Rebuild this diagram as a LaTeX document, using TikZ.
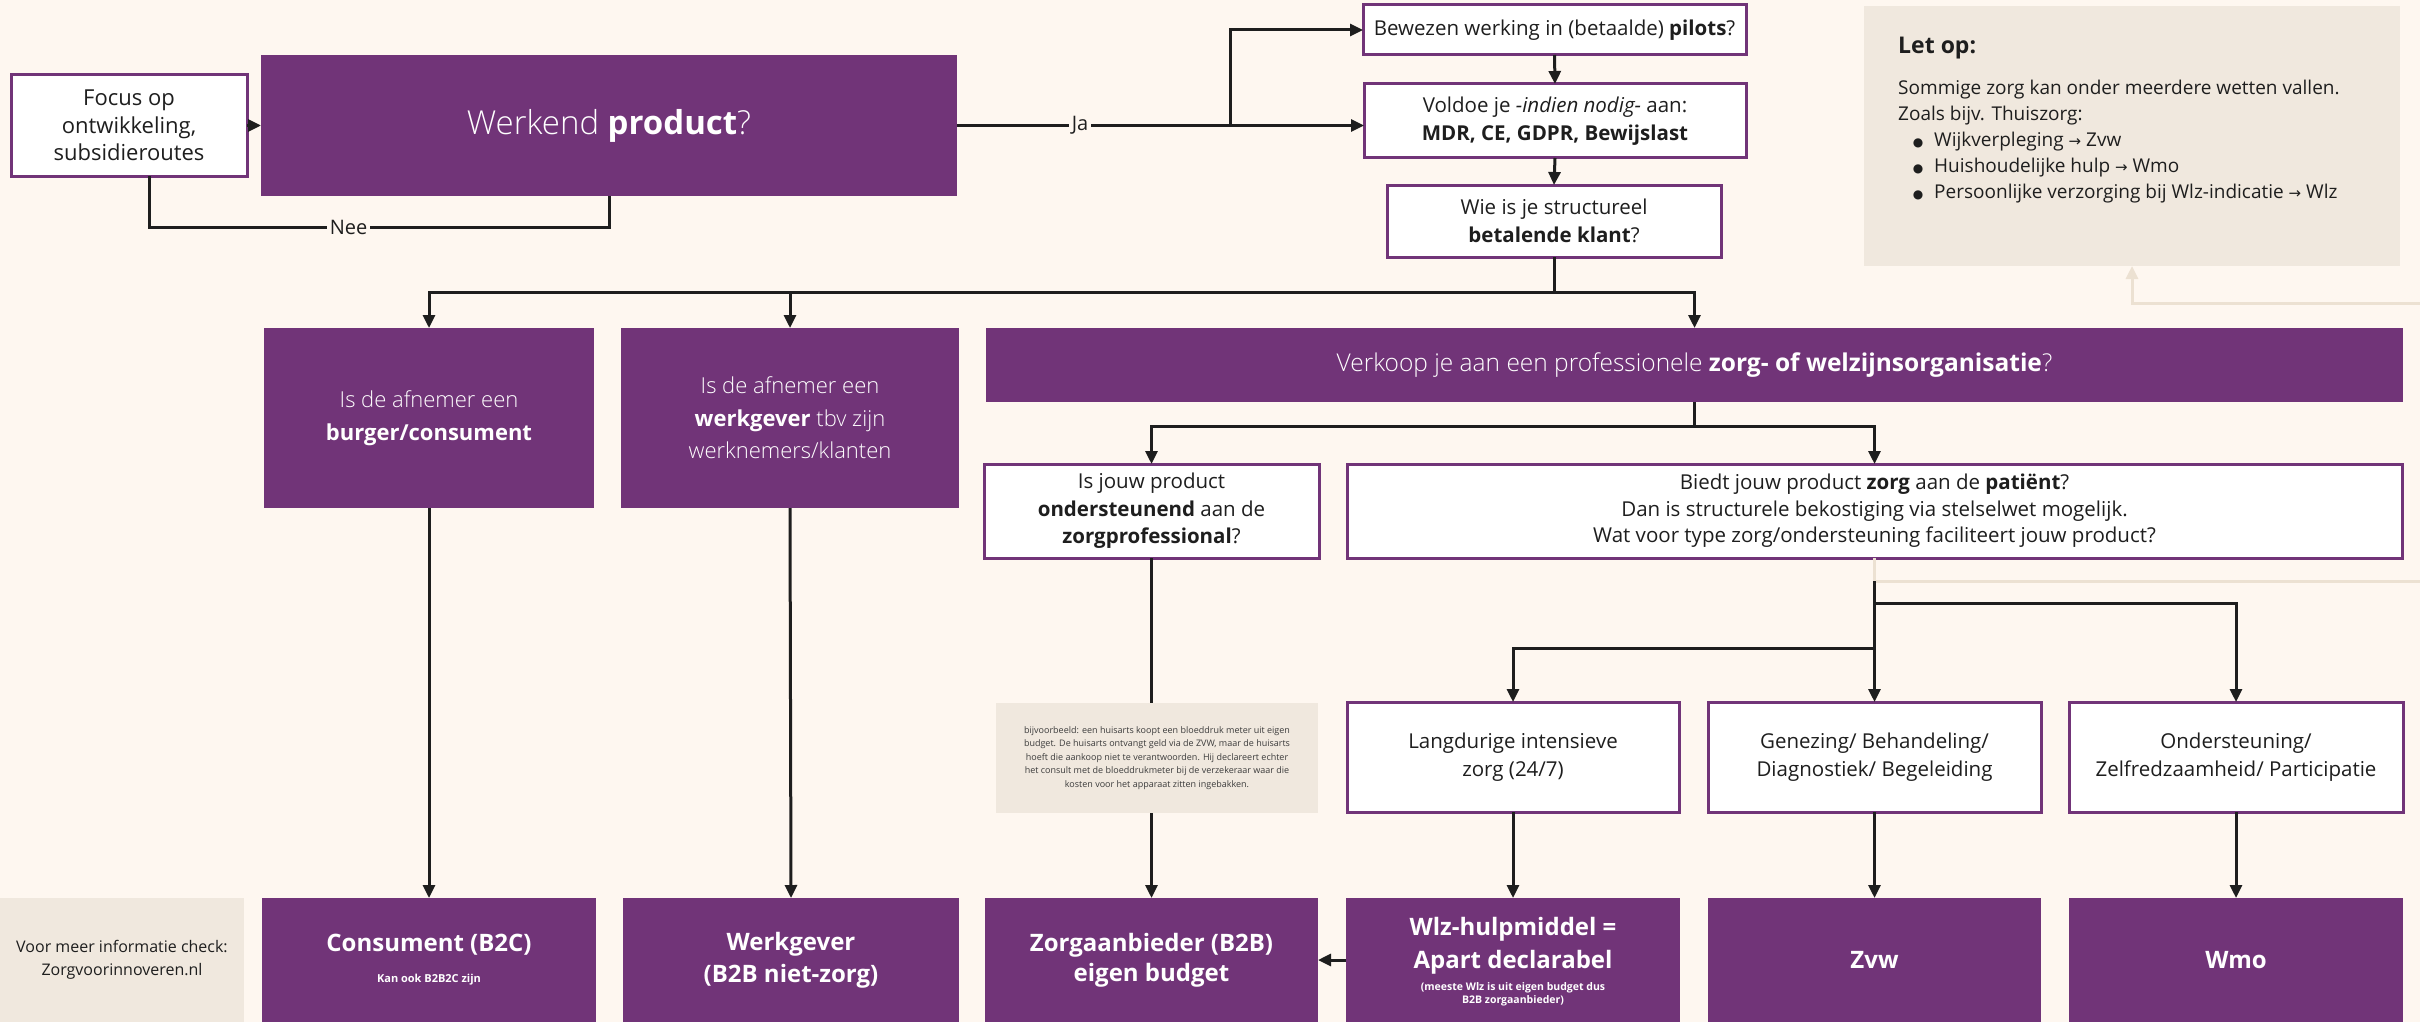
\documentclass[tikz,border=0pt]{standalone}
\usepackage{fontspec}
\setmainfont{Open Sans}
\newfontfamily\lightfont{Open Sans Light}[BoldFont={Open Sans Bold}]
\newfontfamily\symfont{DejaVu Sans}
\usetikzlibrary{arrows.meta}
\definecolor{paper}{RGB}{254,247,240}
\definecolor{plum}{RGB}{113,52,120}
\definecolor{sand}{RGB}{240,232,222}
\definecolor{sandline}{RGB}{236,225,210}
\definecolor{ink}{RGB}{30,30,30}
\definecolor{notegray}{RGB}{60,60,60}
\newcommand{\fs}[2]{\fontsize{#1}{#2}\selectfont}
\newcommand{\rarr}{{\symfont\fontsize{15}{26}\selectfont →}}
\newcommand{\bul}{\makebox[36pt][r]{{\symfont\fontsize{12}{26}\selectfont ●}\hspace{11pt}}}

\begin{document}
\begin{tikzpicture}[x=1pt,y=-1pt,
  boxbase/.style={anchor=north west, inner sep=0pt, outer sep=0pt, align=center},
  whitebox/.style={boxbase, fill=white, draw=plum, line width=3pt, text=ink},
  plumbox/.style={boxbase, fill=plum, text=white},
  sandbox/.style={boxbase, fill=sand, text=ink},
  flow/.style={draw=ink, line width=3pt},
  conn/.style={flow, -{Triangle[length=13pt,width=12pt]}},
  sandflow/.style={draw=sandline, line width=3pt},
  sandconn/.style={sandflow, -{Triangle[length=13pt,width=12pt]}},
  body/.style={font=\fs{20.5}{27.5}},
  lbl/.style={fill=paper, inner sep=3pt, text=ink, font=\fs{20}{24}}
]
\useasboundingbox (0,0) rectangle (2420,1022);
\fill[paper] (0,0) rectangle (2420,1022);

% ---------- top row ----------
\node[whitebox, font=\fs{22}{27.5}, minimum width=236pt, minimum height=101pt] (focus) at (11,75)
  {Focus op\\ontwikkeling,\\subsidieroutes};
\node[plumbox, font=\lightfont\fs{33}{40}, minimum width=696pt, minimum height=141pt] (werkend) at (261,55)
  {Werkend \textbf{product}?};
\node[whitebox, body, minimum width=383pt, minimum height=50pt] (bewezen) at (1363,5)
  {Bewezen werking in (betaalde) \textbf{pilots}?};
\node[whitebox, body, minimum width=382pt, minimum height=74pt] (voldoe) at (1364,84)
  {Voldoe je \textit{-indien nodig-} aan:\\\textbf{MDR, CE, GDPR, Bewijslast}};
\node[whitebox, body, minimum width=334pt, minimum height=72pt] (wie) at (1387,185)
  {Wie is je structureel\\\textbf{betalende klant}?};

% note box, top right
\node[sandbox, minimum width=536pt, minimum height=260pt] (letop) at (1864,6) {};
\node[anchor=west, inner sep=0pt, text=ink, font=\fs{23}{26}\bfseries] (letoptitle) at (1898,48) {Let op:};
\node[anchor=north west, inner sep=0pt, align=left, text=ink, font=\fs{19}{26}] (letopbody) at (1898,80)
  {Sommige zorg kan onder meerdere wetten vallen.\\
   Zoals bijv. Thuiszorg:\\
   \bul Wijkverpleging \rarr{} Zvw\\
   \bul Huishoudelijke hulp \rarr{} Wmo\\
   \bul Persoonlijke verzorging bij Wlz-indicatie \rarr{} Wlz};

% ---------- second row ----------
\node[plumbox, font=\lightfont\fs{22}{33}, minimum width=330pt, minimum height=180pt] (qburger) at (264,328)
  {Is de afnemer een\\\textbf{burger/consument}};
\node[plumbox, font=\lightfont\fs{22}{32.5}, minimum width=338pt, minimum height=180pt] (qwerkgever) at (621,328)
  {Is de afnemer een\\\textbf{werkgever} tbv zijn\\werknemers/klanten};
\node[plumbox, font=\lightfont\fs{24.5}{30}, minimum width=1417pt, minimum height=74pt] (verkoop) at (986,328)
  {Verkoop je aan een professionele \textbf{zorg- of welzijnsorganisatie}?};

% ---------- third row ----------
\node[whitebox, body, minimum width=335pt, minimum height=94pt] (onderst) at (984,464)
  {Is jouw product\\\textbf{ondersteunend} aan de\\\textbf{zorgprofessional}?};
\node[whitebox, font=\fs{20.5}{26.5}, minimum width=1055pt, minimum height=94pt] (biedt) at (1347,464)
  {Biedt jouw product \textbf{zorg} aan de \textbf{patiënt}?\\
   Dan is structurele bekostiging via stelselwet mogelijk.\\
   Wat voor type zorg/ondersteuning faciliteert jouw product?};

% ---------- fourth row ----------
\node[whitebox, body, minimum width=332pt, minimum height=110pt] (langdurig) at (1347,702)
  {Langdurige intensieve\\zorg (24/7)};
\node[whitebox, body, minimum width=333pt, minimum height=110pt] (genezing) at (1708,702)
  {Genezing/ Behandeling/\\Diagnostiek/ Begeleiding};
\node[whitebox, body, minimum width=334pt, minimum height=110pt] (ondersteuning) at (2069,702)
  {Ondersteuning/\\Zelfredzaamheid/ Participatie};

% ---------- bottom row ----------
\node[sandbox, font=\fs{16}{23}, minimum width=244pt, minimum height=124pt] (info) at (0,898)
  {Voor meer informatie check:\\Zorgvoorinnoveren.nl};
\node[plumbox, minimum width=334pt, minimum height=124pt] (consument) at (262,898) {};
\node[text=white, font=\fs{24}{30}\bfseries] (consumentt) at ([yshift=15pt]consument.center) {Consument (B2C)};
\node[text=white, font=\fs{11}{13}\bfseries] (consuments) at ([yshift=-20pt]consument.center) {Kan ook B2B2C zijn};
\node[plumbox, font=\fs{24}{32}\bfseries, minimum width=336pt, minimum height=124pt] (werkgever) at (623,898)
  {Werkgever\\(B2B niet-zorg)};
\node[plumbox, font=\fs{24}{30}\bfseries, minimum width=333pt, minimum height=124pt] (zorgaanb) at (985,898)
  {Zorgaanbieder (B2B)\\eigen budget};
\node[plumbox, minimum width=334pt, minimum height=124pt] (wlz) at (1346,898) {};
\node[text=white, align=center, font=\fs{24}{33}\bfseries] (wlzt) at ([yshift=14.5pt]wlz.center) {Wlz-hulpmiddel =\\Apart declarabel};
\node[text=white, align=center, font=\fs{10.5}{13}\bfseries] (wlzs) at ([yshift=-34.5pt]wlz.center) {(meeste Wlz is uit eigen budget dus\\B2B zorgaanbieder)};
\node[plumbox, font=\fs{24}{30}\bfseries, minimum width=333pt, minimum height=124pt] (zvw) at (1708,898) {Zvw};
\node[plumbox, font=\fs{24}{30}\bfseries, minimum width=334pt, minimum height=124pt] (wmo) at (2069,898) {Wmo};

% ---------- connectors ----------
\draw[conn] (focus.east) -- (werkend.west);
\draw[flow] (werkend.south) -- ++(0,31) -| ([xshift=20pt]focus.south)
  node[lbl, pos=0.283] (nee) {Nee};
\coordinate (jasplit) at (1230,125.5);
\draw[conn] (werkend.east) -- (werkend.east -| voldoe.west);
\node[lbl] (ja) at (1080,125.5) {Ja};
\draw[conn] (jasplit) |- (bewezen.west);
\draw[conn] (bewezen.south) -- (voldoe.north);
\draw[conn] (voldoe.south) -- (wie.north);

\coordinate (wsplit) at (1554,292);
\draw[flow] (wie.south) -- (wsplit);
\draw[conn] (wsplit) -| (qburger.north);
\draw[conn] (wsplit) -| (qwerkgever.north);
\draw[conn] (wsplit) -| (verkoop.north);

\coordinate (vsplit) at (1694.5,426);
\draw[flow] (verkoop.south) -- (vsplit);
\draw[conn] (vsplit) -| (onderst.north);
\draw[conn] (vsplit) -| (biedt.north);

% light connectors leaving the sheet
\coordinate (bsplit) at (1874.5,581);
\coordinate (rightedge) at (2420,581);
\coordinate (rightedgetop) at (2420,303);
\draw[sandflow] (biedt.south) -- (bsplit) -- (rightedge);
\draw[sandconn] (rightedgetop) -| (letop.south);

\coordinate (b1) at (1874.5,603);
\coordinate (b2) at (1874.5,648);
\draw[flow] (bsplit) -- (b2);
\draw[conn] (bsplit) -- (genezing.north);
\draw[conn] (b1) -| (ondersteuning.north);
\draw[conn] (b2) -| (langdurig.north);

\draw[conn] (qburger.south) -- (consument.north);
\draw[conn] (qwerkgever.south) -- (werkgever.north);
\draw[conn] (onderst.south) -- (zorgaanb.north);
\draw[conn] (langdurig.south) -- (wlz.north);
\draw[conn] (genezing.south) -- (zvw.north);
\draw[conn] (ondersteuning.south) -- (wmo.north);
\draw[conn] (wlz.west) -- (zorgaanb.east);

% example note lying over the line to the care provider
\node[sandbox, text=notegray, font=\fs{9}{13.5}, minimum width=322pt, minimum height=110pt] (example) at (996,703)
  {bijvoorbeeld: een huisarts koopt een bloeddruk meter uit eigen\\
   budget. De huisarts ontvangt geld via de ZVW, maar de huisarts\\
   hoeft die aankoop niet te verantwoorden. Hij declareert echter\\
   het consult met de bloeddrukmeter bij de verzekeraar waar die\\
   kosten voor het apparaat zitten ingebakken.};
\end{tikzpicture}
\end{document}
